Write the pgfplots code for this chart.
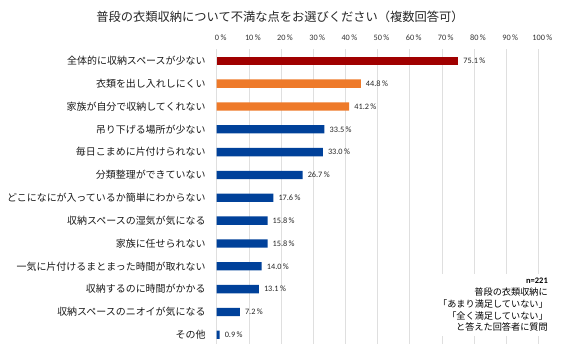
\documentclass[border=0pt]{standalone}
\usepackage{pgfplots}
\pgfplotsset{compat=1.18}
\usepackage{fontspec}
\setmainfont{Noto Sans CJK JP}
\newfontfamily\numfont{Carlito}
\definecolor{cred}{HTML}{A00000}
\definecolor{corange}{HTML}{EE7A2A}
\definecolor{cblue}{HTML}{00419A}
\begin{document}
\begin{tikzpicture}
\useasboundingbox (0bp,0bp) rectangle (567bp,355bp);
\node[font=\fontsize{12.3}{14}\selectfont, inner sep=0, text=black!85] at (280bp,338bp) {普段の衣類収納について不満な点をお選びください（複数回答可）};
\begin{axis}[
  at={(216.7bp,11.1bp)}, anchor=south west,
  scale only axis, width=321.6bp, height=294.5bp,
  /pgf/number format/assume math mode=true,
  xbar, bar width=8.3bp, bar shift=0pt,
  xmin=0, xmax=100, ymin=-0.5, ymax=12.4, y dir=reverse,
  xtick={0,10,...,100},
  xticklabel pos=upper,
  xticklabel={\pgfmathprintnumber{\tick}\,\%},
  xticklabel style={font=\numfont\fontsize{8.3}{9}\selectfont, anchor=south, inner sep=0pt, yshift=9bp, xshift=4bp, text=black!80},
  ytick={0,...,12},
  yticklabels={全体的に収納スペースが少ない, 衣類を出し入れしにくい, 家族が自分で収納してくれない, 吊り下げる場所が少ない, 毎日こまめに片付けられない, 分類整理ができていない, どこになにが入っているか簡単にわからない, 収納スペースの湿気が気になる, 家族に任せられない, 一気に片付けるまとまった時間が取れない, 収納するのに時間がかかる, 収納スペースのニオイが気になる, その他},
  yticklabel style={font=\fontsize{10}{11}\selectfont, anchor=east, inner sep=0pt, xshift=-11bp, text=black!90},
  axis line style={draw=none},
  major tick length=0pt,
  xmajorgrids, grid style={draw=gray!25, line width=0.6pt},
  nodes near coords={\pgfmathprintnumber[fixed,fixed zerofill,precision=1]{\pgfplotspointmeta}\,\%},
  nodes near coords style={font=\numfont\fontsize{8.3}{9}\selectfont, anchor=west, inner sep=0pt, xshift=5bp, text=black!85},
  point meta=explicit symbolic,
]
\addplot[fill=cred, draw=none] coordinates {(75.1,0) [75.1]};
\addplot[fill=corange, draw=none] coordinates {(44.8,1) [44.8] (41.2,2) [41.2]};
\addplot[fill=cblue, draw=none] coordinates {(33.5,3) [33.5] (33.0,4) [33.0] (26.7,5) [26.7] (17.6,6) [17.6] (15.8,7) [15.8] (15.8,8) [15.8] (14.0,9) [14.0] (13.1,10) [13.1] (7.2,11) [7.2] (0.9,12) [0.9]};
\end{axis}
\node[anchor=north east, align=right, fill=white, inner xsep=3bp, inner ysep=4bp, font=\fontsize{9.2}{11.8}\selectfont] at (551bp,81bp) {{\numfont\bfseries\fontsize{8.5}{10}\selectfont n=221}\\普段の衣類収納に\\「あまり満足していない」\\「全く満足していない」\\と答えた回答者に質問};
\end{tikzpicture}
\end{document}
